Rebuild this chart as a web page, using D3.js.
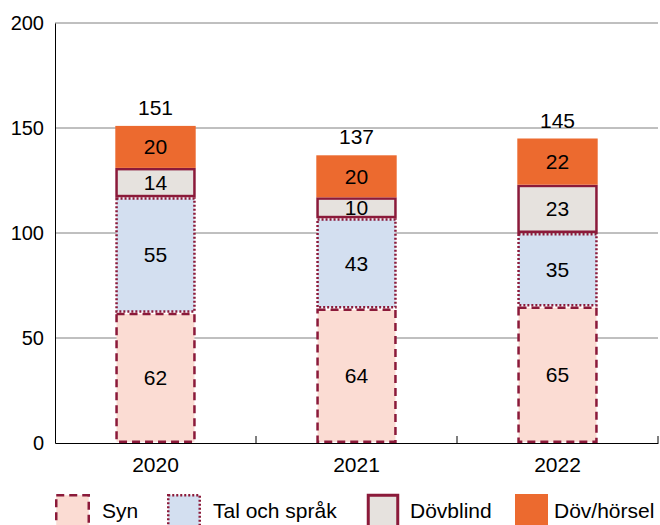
<!DOCTYPE html>
<html><head><meta charset="utf-8">
<script src="https://cdn.jsdelivr.net/npm/d3@7"></script>
<style>body{margin:0;background:#fff;}svg{display:block;font-family:"Liberation Sans",Arial,sans-serif;}</style>
</head><body><svg id="c" width="660" height="525"></svg>
<script>
const years = ["2020","2021","2022"];
const syn = [62,64,65];
const tal = [55,43,35];
const dovblind = [14,10,23];
const dovhorsel = [20,20,22];
const totals = [151,137,145];
const yTicks = [0,50,100,150,200];
const seriesNames = ["Syn","Tal och språk","Dövblind","Döv/hörsel"];

const FS = 21;
const svg = d3.select("#c");
const L=55, R=658, T=23, B=443;
const x = d3.scaleBand().domain(years).range([L,R]);
const y = d3.scaleLinear().domain([0,200]).range([B,T]);
const styles = [
  {fill:"#fbdcd3", stroke:"#8b1a3a", dash:"8,5"},
  {fill:"#d3dff0", stroke:"#8b1a3a", dash:"2,2"},
  {fill:"#e6e2de", stroke:"#8b1a3a", dash:null},
  {fill:"#ec6a2f", stroke:"none", dash:null}
];
const data = [syn,tal,dovblind,dovhorsel];

// gridlines
svg.append("g").selectAll("line").data(yTicks.filter(d=>d>0)).join("line")
  .attr("x1",L).attr("x2",R).attr("y1",d=>y(d)).attr("y2",d=>y(d))
  .attr("stroke","#808080").attr("stroke-width",1);

// y axis
const ya = svg.append("g").attr("transform",`translate(${L},0)`)
  .call(d3.axisLeft(y).tickValues(yTicks).tickSize(0).tickPadding(11));
ya.select(".domain").attr("stroke","#000");
ya.selectAll("text").attr("font-size",20).attr("fill","#000").attr("font-family","Liberation Sans, Arial, sans-serif");

// x axis
const xa = svg.append("g").attr("transform",`translate(0,${B})`)
  .call(d3.axisBottom(x).tickSize(0).tickPadding(14));
xa.select(".domain").attr("stroke","#000");
xa.selectAll("text").attr("font-size",FS).attr("fill","#000").attr("font-family","Liberation Sans, Arial, sans-serif");
svg.append("g").selectAll("line").data(years).join("line")
  .attr("x1",d=>x(d)+x.bandwidth()).attr("x2",d=>x(d)+x.bandwidth())
  .attr("y1",B).attr("y2",B-7).attr("stroke","#000");

const bw = x.bandwidth()*0.4;
years.forEach((yr,i)=>{
  const cx = x(yr)+x.bandwidth()/2;
  let base = 0;
  data.forEach((s,k)=>{
    const v = s[i];
    const st = styles[k];
    const sw = st.stroke==="none"?0:2.5;
    const r = svg.append("rect")
      .attr("x",cx-bw/2+sw/2).attr("width",bw-sw)
      .attr("y",y(base+v)+sw/2).attr("height",y(base)-y(base+v)-sw)
      .attr("fill",st.fill);
    if(st.stroke!=="none"){
      r.attr("stroke",st.stroke).attr("stroke-width",sw);
      if(st.dash) r.attr("stroke-dasharray",st.dash);
    }
    svg.append("text").attr("x",cx).attr("y",(y(base)+y(base+v))/2).attr("dy","0.35em")
      .attr("text-anchor","middle").attr("font-size",FS).attr("fill","#000").text(v);
    base += v;
  });
  svg.append("text").attr("x",cx).attr("y",y(totals[i])-11)
    .attr("text-anchor","middle").attr("font-size",FS).attr("fill","#000").text(totals[i]);
});

// legend
const legX = [55,167,367,515];
const legTX = [102,213,410,554];
const legW = [35,34,32,33];
const lg = svg.append("g");
seriesNames.forEach((n,k)=>{
  const st = styles[k];
  const sw = st.stroke==="none"?0:2.5;
  const r = lg.append("rect").attr("x",legX[k]+sw/2).attr("y",494+sw/2)
    .attr("width",legW[k]-sw).attr("height",45).attr("fill",st.fill);
  if(st.stroke!=="none"){
    r.attr("stroke",st.stroke).attr("stroke-width",k===2?3:sw);
    if(st.dash) r.attr("stroke-dasharray",st.dash);
  }
  lg.append("text").attr("x",legTX[k]).attr("y",511).attr("dy","0.35em")
    .attr("font-size",FS).attr("fill","#000").text(n);
});
</script></body></html>
